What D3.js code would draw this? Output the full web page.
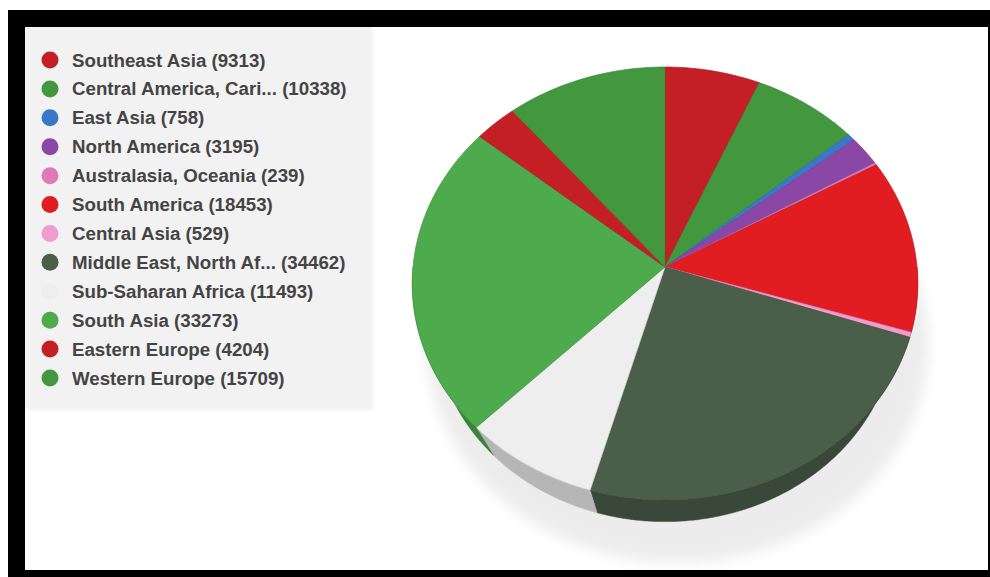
<!DOCTYPE html>
<html><head><meta charset="utf-8">
<script src="https://cdn.jsdelivr.net/npm/d3@7/dist/d3.min.js"></script>
<style>html,body{margin:0;padding:0;background:#fff;} svg{display:block}</style>
</head><body>
<svg id="c" width="990" height="577"></svg>
<script>
const categories = ["Southeast Asia","Central America, Cari...","East Asia","North America","Australasia, Oceania","South America","Central Asia","Middle East, North Af...","Sub-Saharan Africa","South Asia","Eastern Europe","Western Europe"];
const values = [9313,10338,758,3195,239,18453,529,34462,11493,33273,4204,15709];
const colors = ["#c41f24","#43983f","#3a77c8","#8b47a6","#dd7ab8","#e11d22","#f09ccf","#4b5e49","#eeeeee","#4dab4d","#c41f24","#43983f"];

const svg = d3.select("#c");
// frame
svg.append("rect").attr("x",8).attr("y",10).attr("width",982).attr("height",567).attr("fill","#000");
svg.append("rect").attr("x",25).attr("y",27).attr("width",963).attr("height",543).attr("fill","#fff");

const defs = svg.append("defs");
defs.append("filter").attr("id","blur").attr("x","-20%").attr("y","-20%").attr("width","140%").attr("height","140%")
  .append("feGaussianBlur").attr("stdDeviation",7);
defs.append("filter").attr("id","lblur").attr("x","-5%").attr("y","-5%").attr("width","110%").attr("height","110%")
  .append("feGaussianBlur").attr("stdDeviation",1.5);

// legend
const lg = svg.append("g");
lg.append("rect").attr("x",27).attr("y",29).attr("width",346).attr("height",381).attr("fill","#000").attr("opacity",0.05).attr("filter","url(#lblur)");
lg.append("rect").attr("x",25).attr("y",27).attr("width",346).attr("height",381).attr("fill","#f2f2f2");
const data = categories.map((c,i)=>({cat:c, value:values[i], color:colors[i]}));
const ly = d3.scalePoint().domain(d3.range(categories.length)).range([60, 378]);
const items = lg.selectAll("g.it").data(data).join("g").attr("class","it")
  .attr("transform",(d,i)=>`translate(0,${ly(i)})`);
items.append("circle").attr("cx",50).attr("cy",0).attr("r",8.5).attr("fill",d=>d.color);
items.append("text").attr("x",72).attr("y",6.5)
  .attr("font-family","'Liberation Sans', Arial, sans-serif").attr("font-weight","bold").attr("font-size",18.7)
  .attr("fill","#444").text(d=>`${d.cat} (${d.value})`);

// 3D pie projection
const cx=665, cy=267, f=1721, D=6.83, beta=Math.asin(0.854);
const sb=Math.sin(beta), cb=Math.cos(beta), H=0.32, RB=0.95;
function proj(theta, y, r=1, ox=0, oz=0){
  const x = r*Math.sin(theta)+ox, z = r*Math.cos(theta)+oz;
  const yc = y*cb + z*sb;
  const zc = -y*sb + z*cb + D;
  return [cx + f*x/zc, cy - f*yc/zc];
}
function arcPts(a0,a1,y,r=1,ox=0,oz=0){
  const n = Math.max(2, Math.ceil((a1-a0)/(Math.PI/360)));
  return d3.range(n+1).map(k=>proj(a0+(a1-a0)*k/n, y, r, ox, oz));
}
const line = d3.line();

// shadow
const shadowPts = arcPts(0, 2*Math.PI, -H-0.02, 1.03, 0.05, -0.08);
svg.append("path").attr("d", line(shadowPts)+"Z").attr("fill","#000").attr("opacity",0.07).attr("filter","url(#blur)");

const pie = d3.pie().value(d=>d.value).sort(null);
const arcs = pie(data);

// sides
const gS = svg.append("g");
arcs.forEach(a=>{
  const s = Math.max(a.startAngle, Math.PI/2), e = Math.min(a.endAngle, 3*Math.PI/2);
  if (e <= s) return;
  const top = arcPts(s,e,0), bot = arcPts(s,e,-H,RB).reverse();
  const c = d3.color(a.data.color).darker(0.75);
  gS.append("path").attr("d", line(top.concat(bot))+"Z").attr("fill", c).attr("stroke",c).attr("stroke-width",0.5);
});
// tops
const gT = svg.append("g");
arcs.forEach(a=>{
  const pts = [[cx,cy]].concat(arcPts(a.startAngle,a.endAngle,0));
  gT.append("path").attr("d", line(pts)+"Z").attr("fill", a.data.color)
    .attr("stroke", d3.color(a.data.color).darker(0.4)).attr("stroke-width",0.7).attr("stroke-linejoin","round");
});
</script>
</body></html>
